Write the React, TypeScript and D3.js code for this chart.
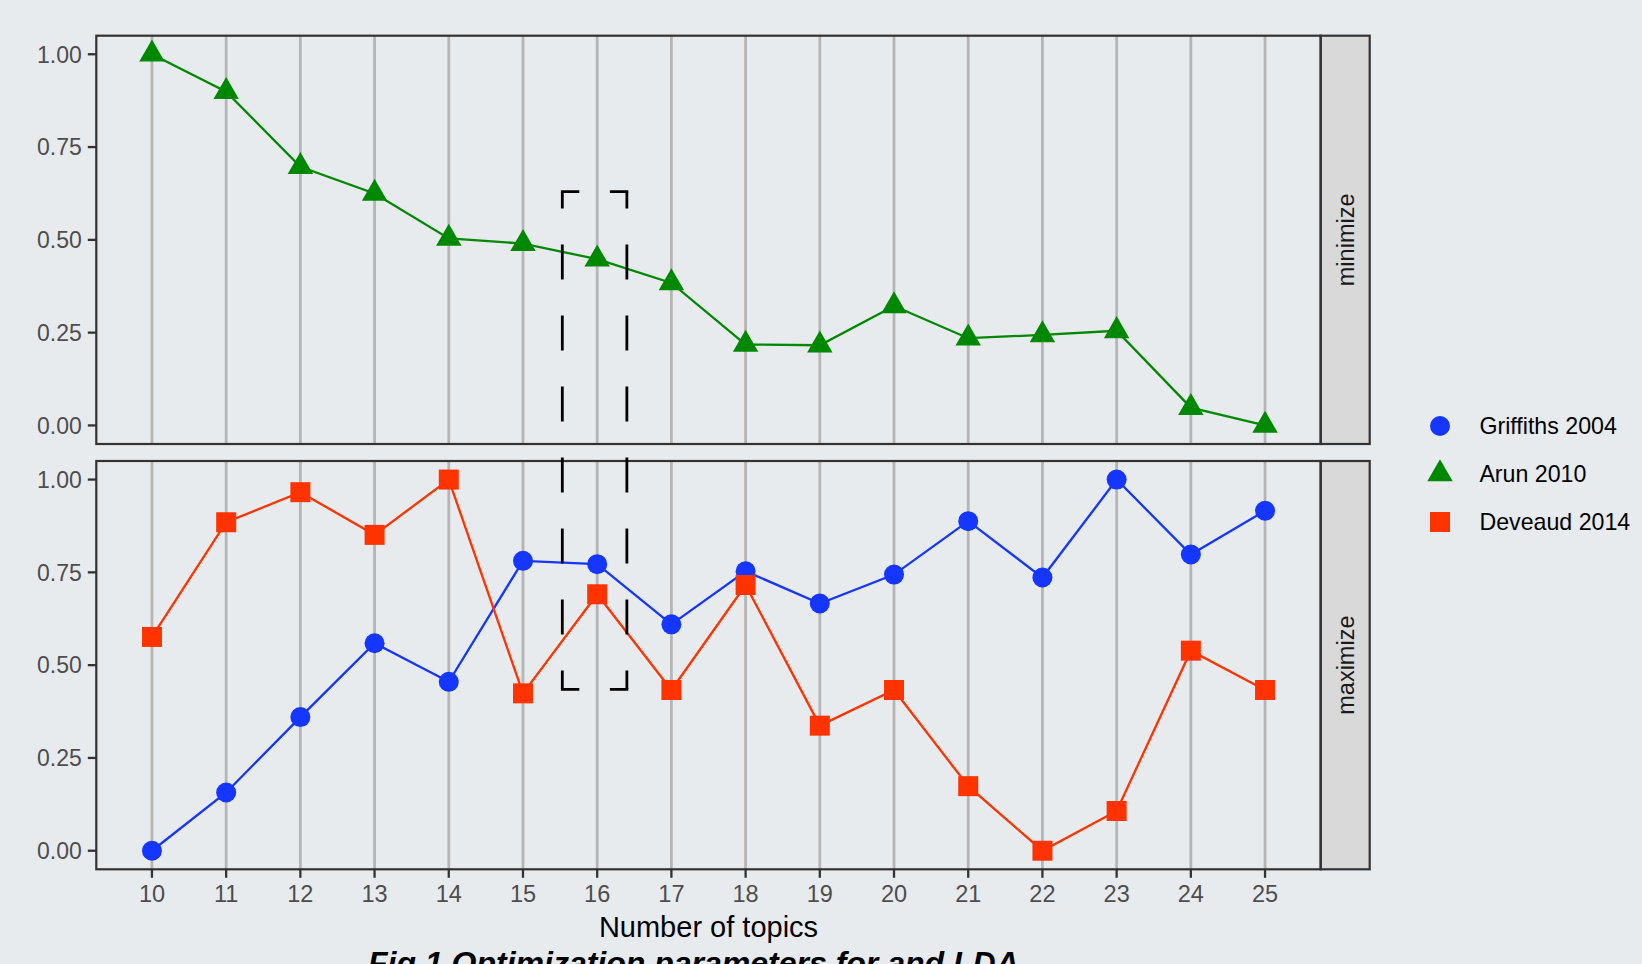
import React from 'react';
import * as d3 from 'd3';

// Number of topics on the x axis
const topics = [10, 11, 12, 13, 14, 15, 16, 17, 18, 19, 20, 21, 22, 23, 24, 25];

// normalised metric values
const griffiths = [0, 0.157, 0.36, 0.559, 0.455, 0.781, 0.772, 0.61, 0.753, 0.666, 0.744, 0.888, 0.736, 1.0, 0.798, 0.916];
const arun = [1.0, 0.899, 0.697, 0.625, 0.504, 0.49, 0.448, 0.384, 0.218, 0.216, 0.322, 0.235, 0.244, 0.255, 0.048, 0.0];
const deveaud = [0.576, 0.885, 0.966, 0.851, 1.0, 0.424, 0.691, 0.433, 0.716, 0.337, 0.433, 0.174, 0.0, 0.107, 0.539, 0.433];

const yTicks = [0, 0.25, 0.5, 0.75, 1];
const panels = ['minimize', 'maximize'];

const series = [
  { name: 'Griffiths 2004', values: griffiths, panel: 'maximize', color: '#1436FF', shape: d3.symbolCircle, size: 314 },
  { name: 'Arun 2010', values: arun, panel: 'minimize', color: '#008800', shape: d3.symbolTriangle, size: 280 },
  { name: 'Deveaud 2014', values: deveaud, panel: 'maximize', color: '#FF3300', shape: d3.symbolSquare, size: 400 },
];

// dashed highlight box around 16 topics (x in topics, y top in "minimize", y bottom in "maximize")
const boxX = [15.53, 16.4];
const boxTop = 0.63;
const boxBottom = 0.435;

const W = 1642;
const H = 964;
const BG = '#E8EBEE';
const FONT = '"Liberation Sans", Arial, sans-serif';

const left = 96.3;
const right = 1320.7;
const stripW = 49;
const panelTop = [35.7, 461];
const panelH = 408.3;

const App: React.FC = () => {
  const x = d3.scaleLinear().domain([9.25, 25.75]).range([left, right]);
  const yScales = panelTop.map(t => d3.scaleLinear().domain([-0.05, 1.05]).range([t + panelH, t]));

  const line = (vals: number[], y: d3.ScaleLinear<number, number>) =>
    d3.line<number>()
      .x((_, i) => x(topics[i]))
      .y(d => y(d))(vals) || '';

  const bx0 = x(boxX[0]);
  const bx1 = x(boxX[1]);
  const by0 = yScales[0](boxTop);
  const by1 = yScales[1](boxBottom);
  const hGap = bx1 - bx0 - 34;

  return (
    <div style={{ position: 'fixed', left: 0, top: 0 }}>
      <svg width={W} height={H} style={{ display: 'block' }} fontFamily={FONT}>
        <rect width={W} height={H} fill={BG} />

        {panels.map((p, pi) => {
          const y = yScales[pi];
          const top = panelTop[pi];
          return (
            <g key={p}>
              <rect x={left} y={top} width={right - left} height={panelH} fill={BG} />
              {topics.map(t => (
                <line key={t} x1={x(t)} x2={x(t)} y1={top} y2={top + panelH} stroke="#B5B5B5" strokeWidth={2.8} />
              ))}
              {/* y axis */}
              {yTicks.map(v => (
                <g key={v}>
                  <line x1={left - 8.5} x2={left} y1={y(v)} y2={y(v)} stroke="#333333" strokeWidth={2.3} />
                  <text x={left - 14.5} y={y(v)} dy="0.36em" textAnchor="end" fontSize={23} fill="#4D4D4D">
                    {d3.format('.2f')(v)}
                  </text>
                </g>
              ))}
              {/* strip */}
              <rect x={right} y={top} width={stripW} height={panelH} fill="#D9D9D9" stroke="#333333" strokeWidth={2.2} />
              <text
                transform={`translate(${right + stripW / 2},${top + panelH / 2}) rotate(-90)`}
                textAnchor="middle"
                dy="0.36em"
                fontSize={23.5}
                fill="#1A1A1A"
              >
                {p}
              </text>
            </g>
          );
        })}

        {/* lines */}
        {series.map(s => {
          const y = yScales[panels.indexOf(s.panel)];
          return <path key={s.name} d={line(s.values, y)} fill="none" stroke={s.color} strokeWidth={2.3} />;
        })}

        {/* points */}
        {series.map(s => {
          const y = yScales[panels.indexOf(s.panel)];
          const sym = d3.symbol().type(s.shape).size(s.size)() || '';
          return (
            <g key={s.name}>
              {s.values.map((v, i) => (
                <path key={i} d={sym} transform={`translate(${x(topics[i])},${y(v)})`} fill={s.color} />
              ))}
            </g>
          );
        })}

        {/* panel borders */}
        {panelTop.map((t, i) => (
          <rect key={i} x={left} y={t} width={right - left} height={panelH} fill="none" stroke="#333333" strokeWidth={2.2} />
        ))}

        {/* x axis on the bottom panel */}
        {topics.map(t => (
          <g key={t}>
            <line x1={x(t)} x2={x(t)} y1={panelTop[1] + panelH} y2={panelTop[1] + panelH + 8.5} stroke="#333333" strokeWidth={2.3} />
            <text x={x(t)} y={902.3} textAnchor="middle" fontSize={23.5} fill="#4D4D4D">
              {t}
            </text>
          </g>
        ))}
        <text x={(left + right) / 2} y={937.3} textAnchor="middle" fontSize={29} fill="#000000">
          Number of topics
        </text>

        {/* dashed highlight box */}
        <g stroke="#000000" strokeWidth={2.8} fill="none">
          <line x1={bx0} x2={bx0} y1={by0} y2={by1} strokeDasharray="35 36" strokeDashoffset={18} />
          <line x1={bx1} x2={bx1} y1={by0} y2={by1} strokeDasharray="35 36" strokeDashoffset={18} />
          <line x1={bx0 - 1.4} x2={bx1 + 1.4} y1={by0} y2={by0} strokeDasharray={`18.4 ${hGap}`} />
          <line x1={bx0 - 1.4} x2={bx1 + 1.4} y1={by1} y2={by1} strokeDasharray={`18.4 ${hGap}`} />
        </g>

        {/* legend */}
        {series.map((s, i) => {
          const ly = 426 + i * 48;
          const sym = d3.symbol().type(s.shape).size(s.size)() || '';
          return (
            <g key={s.name} transform={`translate(1440,${ly})`}>
              <path d={sym} fill={s.color} />
              <text x={39.4} dy="0.36em" fontSize={23.2} fill="#000000">
                {s.name}
              </text>
            </g>
          );
        })}

        {/* figure caption, cut by the bottom edge as in the source */}
        <text x={368} y={974} fontSize={32} fontWeight="bold" fontStyle="italic" fill="#000000">
          Fig 1 Optimization parameters for and LDA
        </text>
      </svg>
    </div>
  );
};

export default App;
